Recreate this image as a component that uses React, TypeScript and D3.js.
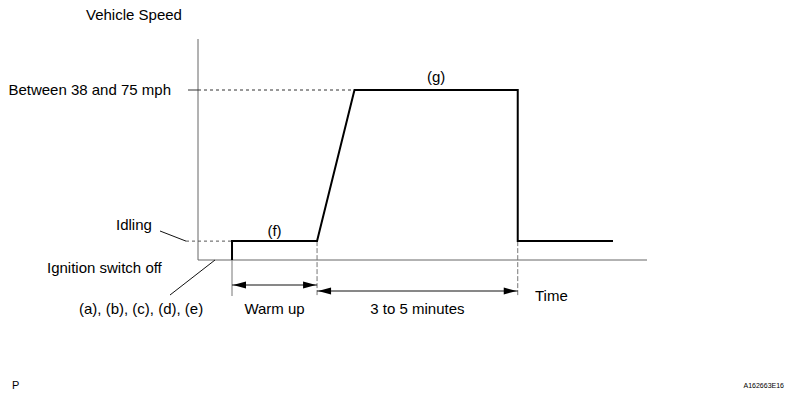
import React from "react";
import * as d3 from "d3";

// Time (arbitrary units) and speed level values
const traceTimes = [1, 1, 3.5, 4.6, 9.4, 9.4, 12.2];
const traceSpeeds = [0, 1, 1, 9, 9, 1, 1];
const phaseMarks = [1, 3.5, 9.4];
const phaseLabels = ["Warm up", "3 to 5 minutes"];
const speedLevels = [0, 1, 9];
const levelLabels = ["Ignition switch off", "Idling", "Between 38 and 75 mph"];
const segmentLabels = ["(f)", "(g)"];
const axisMax = { time: 13.2, speed: 11.7 };

const W = 792;
const H = 401;
const FONT = "'Liberation Sans', Arial, sans-serif";

export default function App() {
  const x = d3.scaleLinear().domain([0, axisMax.time]).range([198, 647]);
  const y = d3.scaleLinear().domain([0, 9]).range([260, 90]);

  const pts: [number, number][] = traceTimes.map((t, i) => [x(t), y(traceSpeeds[i])]);
  const line = d3.line();

  const x0 = x(0);
  const y0 = y(0);
  const yIdle = y(speedLevels[1]);
  const yCruise = y(speedLevels[2]);

  const arrowY1 = 285;
  const arrowY2 = 291;

  const arrowHead = (tipX: number, tipY: number, dir: number) => {
    const L = 13, w = 3.5;
    return `M${tipX},${tipY} L${tipX - dir * L},${tipY - w} L${tipX - dir * L},${tipY + w} Z`;
  };

  const ts = { fontFamily: FONT, fontSize: 15, fill: "#000" } as const;

  return (
    <svg width={W} height={H} style={{ position: "absolute", left: 0, top: 0, background: "#fff" }}>
      {/* axes */}
      <line x1={x0} y1={y(axisMax.speed)} x2={x0} y2={y0} stroke="#666" strokeWidth={1} />
      <line x1={x0} y1={y0} x2={x(axisMax.time)} y2={y0} stroke="#666" strokeWidth={1} />

      {/* cruise reference */}
      <line x1={188} y1={yCruise} x2={x0} y2={yCruise} stroke="#333" strokeWidth={1} />
      <line x1={x0} y1={yCruise} x2={x(traceTimes[3])} y2={yCruise} stroke="#333" strokeWidth={1} strokeDasharray="3,3" />

      {/* idle reference */}
      <line x1={186} y1={yIdle} x2={x(traceTimes[0])} y2={yIdle} stroke="#555" strokeWidth={1} strokeDasharray="3,3" />
      <line x1={160} y1={231} x2={186} y2={yIdle} stroke="#111" strokeWidth={1} />

      {/* leader for ignition off */}
      <line x1={170} y1={295} x2={215} y2={y0} stroke="#111" strokeWidth={1} />

      {/* phase vertical markers */}
      {phaseMarks.map((t, i) => (
        <line key={i} x1={x(t)} y1={i === 0 ? y0 : yIdle} x2={x(t)} y2={296} stroke="#777" strokeWidth={1} strokeDasharray={i === 0 ? "none" : "5,2"} />
      ))}

      {/* trace */}
      <path d={line(pts) || ""} fill="none" stroke="#000" strokeWidth={2} strokeLinejoin="miter" />

      {/* arrows */}
      <line x1={x(phaseMarks[0])} y1={arrowY1} x2={x(phaseMarks[1])} y2={arrowY1} stroke="#111" strokeWidth={1} />
      <path d={arrowHead(x(phaseMarks[0]) + 1, arrowY1, -1)} fill="#000" />
      <path d={arrowHead(x(phaseMarks[1]) - 1, arrowY1, 1)} fill="#000" />
      <line x1={x(phaseMarks[1])} y1={arrowY2} x2={x(phaseMarks[2])} y2={arrowY2} stroke="#111" strokeWidth={1} />
      <path d={arrowHead(x(phaseMarks[1]) + 1, arrowY2, -1)} fill="#000" />
      <path d={arrowHead(x(phaseMarks[2]) - 1, arrowY2, 1)} fill="#000" />

      {/* texts */}
      <text x={86} y={20} {...ts}>Vehicle Speed</text>
      <text x={171} y={95} textAnchor="end" {...ts}>{levelLabels[2]}</text>
      <text x={116} y={230} {...ts}>{levelLabels[1]}</text>
      <text x={47} y={273} {...ts}>{levelLabels[0]}</text>
      <text x={79} y={314} {...ts}>(a), (b), (c), (d), (e)</text>
      <text x={(x(phaseMarks[0]) + x(phaseMarks[1])) / 2} y={314} textAnchor="middle" {...ts}>{phaseLabels[0]}</text>
      <text x={(x(phaseMarks[1]) + x(phaseMarks[2])) / 2} y={314} textAnchor="middle" {...ts}>{phaseLabels[1]}</text>
      <text x={535} y={301} {...ts}>Time</text>
      <text x={(x(traceTimes[1]) + x(traceTimes[2])) / 2} y={236} textAnchor="middle" {...ts}>{segmentLabels[0]}</text>
      <text x={(x(traceTimes[3]) + x(traceTimes[4])) / 2} y={82} textAnchor="middle" {...ts}>{segmentLabels[1]}</text>
      <text x={12} y={389} {...ts} fontSize={11}>P</text>
      <text x={784} y={388} textAnchor="end" {...ts} fontSize={7}>A162663E16</text>
    </svg>
  );
}
